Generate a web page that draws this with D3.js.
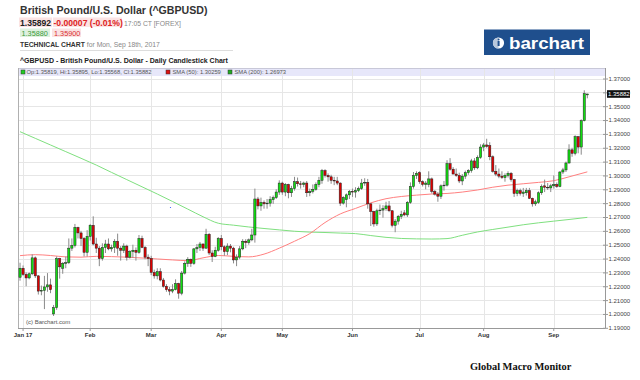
<!DOCTYPE html>
<html><head><meta charset="utf-8">
<script src="https://cdn.jsdelivr.net/npm/d3@7"></script>
<style>body{margin:0;background:#fff}svg{display:block}text{font-family:"Liberation Sans",Arial,sans-serif}</style>
</head><body>
<svg id="c" width="640" height="380"></svg>
<script>
// ---- categories: trading days ----
const dates = ["2016-12-30",
"2017-01-02","2017-01-03","2017-01-04","2017-01-05","2017-01-06","2017-01-09","2017-01-10","2017-01-11","2017-01-12","2017-01-13","2017-01-16","2017-01-17","2017-01-18","2017-01-19","2017-01-20","2017-01-23","2017-01-24","2017-01-25","2017-01-26","2017-01-27","2017-01-30","2017-01-31",
"2017-02-01","2017-02-02","2017-02-03","2017-02-06","2017-02-07","2017-02-08","2017-02-09","2017-02-10","2017-02-13","2017-02-14","2017-02-15","2017-02-16","2017-02-17","2017-02-20","2017-02-21","2017-02-22","2017-02-23","2017-02-24","2017-02-27","2017-02-28",
"2017-03-01","2017-03-02","2017-03-03","2017-03-06","2017-03-07","2017-03-08","2017-03-09","2017-03-10","2017-03-13","2017-03-14","2017-03-15","2017-03-16","2017-03-17","2017-03-20","2017-03-21","2017-03-22","2017-03-23","2017-03-24","2017-03-27","2017-03-28","2017-03-29","2017-03-30","2017-03-31",
"2017-04-03","2017-04-04","2017-04-05","2017-04-06","2017-04-07","2017-04-10","2017-04-11","2017-04-12","2017-04-13","2017-04-14","2017-04-17","2017-04-18","2017-04-19","2017-04-20","2017-04-21","2017-04-24","2017-04-25","2017-04-26","2017-04-27","2017-04-28",
"2017-05-01","2017-05-02","2017-05-03","2017-05-04","2017-05-05","2017-05-08","2017-05-09","2017-05-10","2017-05-11","2017-05-12","2017-05-15","2017-05-16","2017-05-17","2017-05-18","2017-05-19","2017-05-22","2017-05-23","2017-05-24","2017-05-25","2017-05-26","2017-05-29","2017-05-30","2017-05-31",
"2017-06-01","2017-06-02","2017-06-05","2017-06-06","2017-06-07","2017-06-08","2017-06-09","2017-06-12","2017-06-13","2017-06-14","2017-06-15","2017-06-16","2017-06-19","2017-06-20","2017-06-21","2017-06-22","2017-06-23","2017-06-26","2017-06-27","2017-06-28","2017-06-29","2017-06-30",
"2017-07-03","2017-07-04","2017-07-05","2017-07-06","2017-07-07","2017-07-10","2017-07-11","2017-07-12","2017-07-13","2017-07-14","2017-07-17","2017-07-18","2017-07-19","2017-07-20","2017-07-21","2017-07-24","2017-07-25","2017-07-26","2017-07-27","2017-07-28","2017-07-31",
"2017-08-01","2017-08-02","2017-08-03","2017-08-04","2017-08-07","2017-08-08","2017-08-09","2017-08-10","2017-08-11","2017-08-14","2017-08-15","2017-08-16","2017-08-17","2017-08-18","2017-08-21","2017-08-22","2017-08-23","2017-08-24","2017-08-25","2017-08-28","2017-08-29","2017-08-30","2017-08-31",
"2017-09-01","2017-09-04","2017-09-05","2017-09-06","2017-09-07","2017-09-08","2017-09-11","2017-09-12","2017-09-13","2017-09-14","2017-09-15","2017-09-18"];

// ---- OHLC series ----
const open = [1.2265,
1.2330,1.2285,1.2260,1.2290,1.2405,1.2275,1.2165,1.2170,1.2195,1.2210,1.2000,1.2045,1.2400,1.2330,1.2365,1.2370,1.2475,1.2495,1.2625,1.2585,1.2545,1.2445,
1.2560,1.2640,1.2505,1.2475,1.2400,1.2480,1.2505,1.2470,1.2480,1.2525,1.2475,1.2460,1.2490,1.2410,1.2450,1.2460,1.2445,1.2545,1.2480,1.2410,
1.2400,1.2300,1.2275,1.2305,1.2245,1.2200,1.2175,1.2165,1.2175,1.2220,1.2150,1.2295,1.2365,1.2395,1.2365,1.2470,1.2480,1.2505,1.2475,1.2575,1.2440,1.2415,1.2460,
1.2545,1.2485,1.2450,1.2490,1.2475,1.2390,1.2410,1.2470,1.2525,1.2515,1.2535,1.2570,1.2830,1.2780,1.2805,1.2795,1.2800,1.2825,1.2840,1.2880,
1.2945,1.2880,1.2935,1.2875,1.2905,1.2955,1.2940,1.2935,1.2945,1.2875,1.2885,1.2900,1.2935,1.2965,1.3035,1.3000,1.2990,1.2965,1.2960,1.2945,1.2800,1.2825,1.2860,
1.2885,1.2880,1.2890,1.2905,1.2945,1.2950,1.2795,1.2740,1.2650,1.2745,1.2750,1.2760,1.2780,1.2745,1.2640,1.2670,1.2705,1.2730,1.2715,1.2805,1.2920,1.3000,
1.3020,1.2955,1.2935,1.2935,1.2975,1.2885,1.2865,1.2850,1.2925,1.2930,1.3085,1.3045,1.3010,1.3000,1.2960,1.2995,1.3020,1.3035,1.3105,1.3055,1.3130,
1.3205,1.3220,1.3215,1.3135,1.3030,1.3010,1.2995,1.2985,1.3000,1.3015,1.2970,1.2870,1.2890,1.2870,1.2875,1.2890,1.2835,1.2795,1.2805,1.2875,1.2925,1.2915,1.2910,
1.2925,1.2935,1.2920,1.3025,1.3040,1.3090,1.3185,1.3160,1.3280,1.3205,1.3395,1.35819];
const high = [1.2370,
1.2350,1.2300,1.2300,1.2430,1.2415,1.2280,1.2205,1.2275,1.2295,1.2255,1.2065,1.2415,1.2405,1.2375,1.2415,1.2545,1.2545,1.2650,1.2630,1.2600,1.2555,1.2605,
1.2650,1.2705,1.2550,1.2490,1.2510,1.2535,1.2545,1.2500,1.2540,1.2580,1.2490,1.2510,1.2500,1.2460,1.2500,1.2480,1.2570,1.2565,1.2490,1.2430,
1.2420,1.2320,1.2330,1.2330,1.2260,1.2215,1.2195,1.2215,1.2250,1.2225,1.2310,1.2380,1.2410,1.2400,1.2475,1.2505,1.2520,1.2510,1.2615,1.2585,1.2460,1.2485,1.2555,
1.2570,1.2495,1.2510,1.2505,1.2485,1.2430,1.2490,1.2540,1.2540,1.2545,1.2615,1.2905,1.2845,1.2840,1.2820,1.2830,1.2850,1.2855,1.2900,1.2965,
1.2955,1.2945,1.2940,1.2925,1.2990,1.2985,1.2960,1.2955,1.2960,1.2905,1.2935,1.2950,1.2990,1.3047,1.3045,1.3015,1.3005,1.2990,1.2990,1.2950,1.2850,1.2870,1.2895,
1.2905,1.2915,1.2920,1.2975,1.2980,1.2975,1.2800,1.2745,1.2760,1.2790,1.2785,1.2810,1.2815,1.2750,1.2685,1.2715,1.2745,1.2750,1.2815,1.2950,1.3025,1.3030,
1.3030,1.2965,1.2960,1.3030,1.2985,1.2895,1.2880,1.2935,1.2960,1.3110,1.3125,1.3060,1.3050,1.3020,1.3010,1.3035,1.3045,1.3120,1.3125,1.3145,1.3225,
1.3235,1.3265,1.3240,1.3145,1.3075,1.3050,1.3030,1.3015,1.3030,1.3025,1.2975,1.2905,1.2905,1.2910,1.2910,1.2910,1.2840,1.2825,1.2885,1.2935,1.2970,1.2945,1.2940,
1.3000,1.2950,1.3030,1.3055,1.3100,1.3225,1.3200,1.3290,1.3285,1.3405,1.3615,1.35895];
const low = [1.2240,
1.2275,1.2200,1.2250,1.2280,1.2260,1.2140,1.2135,1.2035,1.2160,1.2150,1.1985,1.2030,1.2255,1.2290,1.2330,1.2360,1.2455,1.2480,1.2545,1.2490,1.2415,1.2415,
1.2530,1.2495,1.2440,1.2345,1.2385,1.2440,1.2460,1.2450,1.2440,1.2420,1.2385,1.2440,1.2385,1.2400,1.2405,1.2385,1.2435,1.2475,1.2395,1.2345,
1.2280,1.2255,1.2250,1.2235,1.2190,1.2160,1.2135,1.2150,1.2170,1.2110,1.2135,1.2285,1.2340,1.2340,1.2355,1.2440,1.2455,1.2455,1.2470,1.2425,1.2375,1.2410,1.2450,
1.2460,1.2420,1.2425,1.2445,1.2365,1.2345,1.2395,1.2460,1.2475,1.2500,1.2525,1.2515,1.2755,1.2745,1.2760,1.2760,1.2775,1.2795,1.2830,1.2860,
1.2860,1.2850,1.2835,1.2845,1.2890,1.2920,1.2905,1.2915,1.2845,1.2850,1.2870,1.2890,1.2915,1.2940,1.2985,1.2955,1.2940,1.2930,1.2930,1.2780,1.2790,1.2770,1.2830,
1.2845,1.2840,1.2880,1.2895,1.2925,1.2760,1.2635,1.2630,1.2635,1.2715,1.2695,1.2745,1.2735,1.2625,1.2590,1.2645,1.2685,1.2705,1.2700,1.2795,1.2905,1.2975,
1.2940,1.2920,1.2900,1.2915,1.2870,1.2855,1.2810,1.2830,1.2890,1.2920,1.3035,1.3015,1.2990,1.2945,1.2930,1.2975,1.3005,1.3020,1.3040,1.3045,1.3120,
1.3175,1.3200,1.3110,1.3020,1.2995,1.2980,1.2975,1.2955,1.2985,1.2955,1.2845,1.2850,1.2855,1.2845,1.2855,1.2830,1.2775,1.2780,1.2795,1.2860,1.2880,1.2895,1.2880,
1.2905,1.2910,1.2915,1.3010,1.3025,1.3085,1.3135,1.3145,1.3160,1.3150,1.3390,1.35568];
const close = [1.2330,
1.2285,1.2260,1.2290,1.2405,1.2275,1.2165,1.2170,1.2195,1.2210,1.2175,1.2045,1.2400,1.2340,1.2365,1.2370,1.2475,1.2495,1.2625,1.2585,1.2545,1.2445,1.2560,
1.2640,1.2505,1.2475,1.2400,1.2480,1.2505,1.2470,1.2480,1.2525,1.2475,1.2460,1.2490,1.2410,1.2450,1.2460,1.2445,1.2545,1.2480,1.2410,1.2400,
1.2300,1.2275,1.2305,1.2245,1.2200,1.2175,1.2165,1.2175,1.2220,1.2150,1.2295,1.2365,1.2395,1.2365,1.2470,1.2480,1.2505,1.2475,1.2575,1.2440,1.2415,1.2460,1.2545,
1.2485,1.2450,1.2490,1.2475,1.2390,1.2410,1.2470,1.2525,1.2515,1.2535,1.2570,1.2830,1.2780,1.2805,1.2795,1.2800,1.2825,1.2840,1.2880,1.2945,
1.2880,1.2935,1.2875,1.2905,1.2955,1.2940,1.2935,1.2945,1.2875,1.2885,1.2900,1.2935,1.2965,1.3035,1.3000,1.2990,1.2965,1.2960,1.2945,1.2800,1.2840,1.2860,1.2885,
1.2880,1.2890,1.2905,1.2945,1.2950,1.2795,1.2740,1.2650,1.2745,1.2750,1.2760,1.2780,1.2745,1.2640,1.2670,1.2705,1.2720,1.2715,1.2805,1.2920,1.3000,1.3015,
1.2955,1.2935,1.2945,1.2975,1.2885,1.2865,1.2850,1.2925,1.2930,1.3085,1.3045,1.3010,1.3000,1.2960,1.2995,1.3020,1.3035,1.3105,1.3055,1.3130,1.3205,
1.3220,1.3210,1.3135,1.3030,1.3010,1.2995,1.2985,1.3000,1.3015,1.2970,1.2870,1.2890,1.2870,1.2880,1.2890,1.2835,1.2795,1.2810,1.2875,1.2920,1.2915,1.2910,1.2925,
1.2935,1.2920,1.3025,1.3040,1.3090,1.3185,1.3160,1.3280,1.3205,1.3395,1.3590,1.35882];

const smaDays = [0,5,10,15,20,25,30,35,40,45,50,55,60,65,70,75,80,85,90,95,100,105,110,115,120,125,130,135,140,145,150,155,160,165,170,175,180,186];
const sma50 = [1.2421,1.2428,1.2422,1.2412,1.2410,1.2416,1.2414,1.2410,1.2404,1.2397,1.2390,1.2385,1.2405,1.2422,1.2416,1.2412,1.2432,1.2475,1.2525,1.2580,1.2660,1.2722,1.2762,1.2802,1.2832,1.2848,1.2858,1.2866,1.2870,1.2880,1.2895,1.2915,1.2930,1.2940,1.2950,1.2962,1.2990,1.30259];
const sma200 = [1.3316,1.3268,1.3220,1.3172,1.3124,1.3075,1.3022,1.2970,1.2918,1.2866,1.2812,1.2757,1.2702,1.2655,1.2641,1.2628,1.2617,1.2607,1.2597,1.2591,1.2588,1.2584,1.2580,1.2566,1.2553,1.2545,1.2542,1.2541,1.2544,1.2568,1.2592,1.2610,1.2627,1.2644,1.2658,1.2670,1.2682,1.26973];

// ---- ticks ----
const yTicks = [1.19,1.20,1.21,1.22,1.23,1.24,1.25,1.26,1.27,1.28,1.29,1.30,1.31,1.32,1.33,1.34,1.35,1.36,1.37];
const monthTickDates = ["2017-01-02","2017-02-01","2017-03-01","2017-04-03","2017-05-01","2017-06-01","2017-07-03","2017-08-01","2017-09-01"];
const monthTickLabels = ["Jan 17","Feb","Mar","Apr","May","Jun","Jul","Aug","Sep"];

const svg = d3.select("#c");
const L = 18, R = 605, T = 68, B = 328;
const x = d3.scaleBand().domain(dates).range([18.5, 18.5 + dates.length * 3.05]);
const y = d3.scaleLinear().domain([1.19, 1.37]).range([327.8, 78.5]);
const cx = d => x(d) + x.bandwidth() / 2;

// ---- header ----
svg.append("text").attr("x", 20).attr("y", 14).attr("font-size", 10.6).attr("font-weight", "bold").attr("fill", "#333").text("British Pound/U.S. Dollar (^GBPUSD)");
svg.append("rect").attr("x", 19).attr("y", 17.5).attr("width", 33).attr("height", 9.5).attr("fill", "#fbe4e4");
svg.append("rect").attr("x", 53).attr("y", 17.5).attr("width", 69).attr("height", 9.5).attr("fill", "#fbe4e4");
svg.append("text").attr("x", 20).attr("y", 25.5).attr("font-size", 8.6).attr("font-weight", "bold").attr("fill", "#222").text("1.35892");
svg.append("text").attr("x", 53.5).attr("y", 25.5).attr("font-size", 8.6).attr("font-weight", "bold").attr("fill", "#dd2222").text("-0.00007 (-0.01%)");
svg.append("text").attr("x", 124).attr("y", 25.5).attr("font-size", 6.8).attr("fill", "#888").text("17:05 CT [FOREX]");
svg.append("rect").attr("x", 20).attr("y", 28.5).attr("width", 30).attr("height", 8.5).attr("fill", "#dff1df");
svg.append("rect").attr("x", 52).attr("y", 28.5).attr("width", 29).attr("height", 8.5).attr("fill", "#fbe2e2");
svg.append("text").attr("x", 21.5).attr("y", 35.5).attr("font-size", 7.3).attr("fill", "#3a9a3a").text("1.35880");
svg.append("text").attr("x", 54).attr("y", 35.5).attr("font-size", 7.3).attr("fill", "#d83030").text("1.35900");
const tc = svg.append("text").attr("x", 20).attr("y", 46.5).attr("font-size", 6.8);
tc.append("tspan").attr("font-weight", "bold").attr("fill", "#333").text("TECHNICAL CHART");
tc.append("tspan").attr("fill", "#888").attr("dx", 2).text("for Mon, Sep 18th, 2017");
svg.append("line").attr("x1", 20).attr("x2", 233).attr("y1", 50.5).attr("y2", 50.5).attr("stroke", "#dddddd");

// logo
svg.append("rect").attr("x", 484).attr("y", 29.5).attr("width", 106).attr("height", 25.5).attr("fill", "#1f4f8d");
svg.append("circle").attr("cx", 498.5).attr("cy", 43).attr("r", 5.6).attr("fill", "#ffffff");
svg.append("path").attr("d", "M498.5,37.4 A5.6,5.6 0 0 0 498.5,48.6 Z").attr("fill", "#b9c8dc");
svg.append("rect").attr("x", 497.6).attr("y", 41).attr("width", 2).attr("height", 5).attr("fill", "#1f4f8d");
svg.append("circle").attr("cx", 498.6).attr("cy", 39.4).attr("r", 1).attr("fill", "#1f4f8d");
svg.append("text").attr("x", 509).attr("y", 49).attr("font-size", 17).attr("font-weight", "bold").attr("fill", "#fff")
  .attr("textLength", 75).attr("lengthAdjust", "spacingAndGlyphs").text("barchart");

// chart title
svg.append("text").attr("x", 20).attr("y", 63).attr("font-size", 7).attr("font-weight", "bold").attr("fill", "#222").text("^GBPUSD - British Pound/U.S. Dollar - Daily Candlestick Chart");

// ---- plot frame, grid ----
svg.append("rect").attr("x", L).attr("y", T).attr("width", R - L).attr("height", B - T).attr("fill", "#fff");
svg.append("rect").attr("x", L).attr("y", T).attr("width", R - L).attr("height", 8).attr("fill", "#e7e7fa");
svg.append("g").selectAll("line").data(yTicks).join("line")
  .attr("x1", L).attr("x2", R).attr("y1", d => Math.round(y(d)) + 0.5).attr("y2", d => Math.round(y(d)) + 0.5)
  .attr("stroke", "#e6e6e6");
svg.append("g").selectAll("line").data(monthTickDates).join("line")
  .attr("x1", d => Math.round(cx(d)) + 0.5).attr("x2", d => Math.round(cx(d)) + 0.5).attr("y1", T).attr("y2", B)
  .attr("stroke", "#e6e6e6");
svg.append("line").attr("x1", L).attr("x2", R).attr("y1", T + 0.5).attr("y2", T + 0.5).attr("stroke", "#c8c8d8");
svg.append("line").attr("x1", L + 0.5).attr("x2", L + 0.5).attr("y1", T).attr("y2", B).attr("stroke", "#b0b0b0");

// legend
const lg = svg.append("g").attr("font-size", 5.8).attr("fill", "#555");
lg.append("rect").attr("x", 21).attr("y", 70).attr("width", 4).attr("height", 4).attr("fill", "#22cc22").attr("stroke", "#333").attr("stroke-width", 0.5);
lg.append("text").attr("x", 26.5).attr("y", 74.3).text("Op:1.35819, Hi:1.35895, Lo:1.35568, Cl:1.35882");
lg.append("rect").attr("x", 166).attr("y", 70).attr("width", 4).attr("height", 4).attr("fill", "#dd1111").attr("stroke", "#333").attr("stroke-width", 0.5);
lg.append("text").attr("x", 172.5).attr("y", 74.3).text("SMA (50): 1.30259");
lg.append("rect").attr("x", 228).attr("y", 70).attr("width", 4).attr("height", 4).attr("fill", "#22aa22").attr("stroke", "#333").attr("stroke-width", 0.5);
lg.append("text").attr("x", 234.5).attr("y", 74.3).text("SMA (200): 1.26973");

// ---- moving averages ----
const smaLine = vals => d3.line().x((d, i) => cx(dates[d])).y((d, i) => y(vals[i])).curve(d3.curveMonotoneX)(smaDays);
svg.append("path").attr("d", smaLine(sma200)).attr("fill", "none").attr("stroke", "#7fe07f").attr("stroke-width", 1);
svg.append("path").attr("d", smaLine(sma50)).attr("fill", "none").attr("stroke", "#ff8080").attr("stroke-width", 1);

// ---- candles ----
const idx = d3.range(dates.length);
const cg = svg.append("g");
cg.selectAll("line").data(idx).join("line")
  .attr("x1", i => cx(dates[i])).attr("x2", i => cx(dates[i]))
  .attr("y1", i => y(high[i])).attr("y2", i => y(low[i]))
  .attr("stroke", "#8a8a8a").attr("stroke-width", 1);
cg.selectAll("rect").data(idx).join("rect")
  .attr("x", i => cx(dates[i]) - 1.1).attr("width", 2.2)
  .attr("y", i => y(Math.max(open[i], close[i])))
  .attr("height", i => Math.max(0.6, Math.abs(y(open[i]) - y(close[i]))))
  .attr("fill", i => close[i] >= open[i] ? "#11dd11" : "#dd0000")
  .attr("stroke", "#222").attr("stroke-width", 0.5);

// small blue artefact dot
svg.append("circle").attr("cx", 170.5).attr("cy", 207.5).attr("r", 0.6).attr("fill", "#3355ff");

// ---- axes ----
const ya = svg.append("g").attr("transform", `translate(${R},0)`)
  .call(d3.axisRight(y).tickValues(yTicks).tickFormat(d3.format(".5f")).tickSize(3).tickPadding(0.5));
ya.select(".domain").attr("stroke", "#999").attr("d", `M0.5,${T}V${B + 0.5}`);
ya.selectAll(".tick line").attr("stroke", "#999").attr("x1", -2);
ya.selectAll("text").attr("font-size", 6).attr("fill", "#444").attr("font-family", "Liberation Sans, Arial, sans-serif");

const xa = svg.append("g").attr("transform", `translate(0,${B})`)
  .call(d3.axisBottom(x).tickValues(monthTickDates).tickFormat((d, i) => monthTickLabels[i]).tickSize(3).tickPadding(1.5));
xa.select(".domain").attr("stroke", "#999").attr("d", `M${L},0.5H${R}`);
xa.selectAll(".tick line").attr("stroke", "#999");
xa.selectAll("text").attr("font-size", 6).attr("font-weight", "bold").attr("fill", "#333").attr("font-family", "Liberation Sans, Arial, sans-serif");

// last price box
const last = close[close.length - 1];
svg.append("rect").attr("x", 607).attr("y", y(last) - 3.8).attr("width", 23).attr("height", 7.6).attr("fill", "#111");
svg.append("text").attr("x", 608).attr("y", y(last) + 2.1).attr("font-size", 6).attr("fill", "#fff").text(d3.format(".5f")(last));

// watermark & footer
svg.append("text").attr("x", 26).attr("y", 323.5).attr("font-size", 6).attr("fill", "#555").text("(c) Barchart.com");
svg.append("text").attr("x", 470).attr("y", 369.5).attr("font-size", 10.4).attr("font-weight", "bold").attr("fill", "#111")
  .style("font-family", "'Liberation Serif','Times New Roman',serif").text("Global Macro Monitor");
</script>
</body></html>
